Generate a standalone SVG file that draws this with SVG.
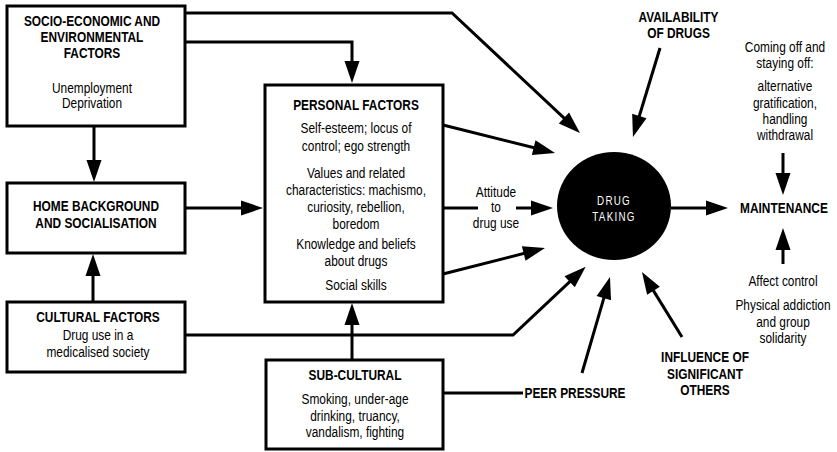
<svg xmlns="http://www.w3.org/2000/svg" width="837" height="452" viewBox="0 0 837 452">
<style>
.box{fill:#fff;stroke:#000;stroke-width:3}
.ln{fill:none;stroke:#000;stroke-width:3;stroke-linejoin:miter}
.arr{marker-end:url(#ah)}
text{font-family:"Liberation Sans",Arial,sans-serif;font-size:14.5px;fill:#000;text-anchor:middle}
.h{font-weight:bold}
.w{fill:#fff;font-size:12px;letter-spacing:1.5px}
</style>
<defs>
<marker id="ah" markerUnits="userSpaceOnUse" markerWidth="24" markerHeight="16" refX="16" refY="7.5" orient="auto" overflow="visible">
<path d="M0,0 L22,7.5 L0,15 Z" fill="#000"/>
</marker>
</defs>
<rect width="837" height="452" fill="#fff"/>
<g id="connectors">
<path class="ln arr" d="M185,13 L452,13 L575.6,128.9"/>
<path class="ln arr" d="M185,42 L352,42 L352,77"/>
<path class="ln arr" d="M94,126 L94,176"/>
<path class="ln arr" d="M185,208 L257,208"/>
<path class="ln arr" d="M93,302 L93,260"/>
<path class="ln arr" d="M352,360 L352,309"/>
<path class="ln arr" d="M185,335 L513,335 L581.3,270.8"/>
<path class="ln arr" d="M443,125 L549.2,151.5"/>
<path class="ln arr" d="M443,274 L539.2,249.5"/>
<path class="ln" d="M443,208 L478,208"/>
<path class="ln arr" d="M516,208 L547,208"/>
<path class="ln arr" d="M660,48 L634.7,131.3"/>
<path class="ln arr" d="M671,208 L722,208"/>
<path class="ln arr" d="M783,153 L783,189"/>
<path class="ln arr" d="M783,264 L783,234"/>
<path class="ln arr" d="M582,373 L608.3,282.8"/>
<path class="ln arr" d="M682,337 L645.1,277.1"/>
<path class="ln" d="M443,393 L523,393"/>
</g>
<g id="socio-economic">
<rect class="box" x="7" y="6" width="178" height="120"/>
<g transform="matrix(.82 0 0 1 16.56 0)">
<text class="h" x="92" y="26">SOCIO-ECONOMIC AND</text>
<text class="h" x="92" y="42">ENVIRONMENTAL</text>
<text class="h" x="92" y="58">FACTORS</text>
<text x="92" y="93">Unemployment</text>
<text x="92" y="108">Deprivation</text>
</g>
</g>
<g id="home">
<rect class="box" x="7" y="183" width="178" height="70"/>
<g transform="matrix(.82 0 0 1 17.28 0)">
<text class="h" x="96" y="211">HOME BACKGROUND</text>
<text class="h" x="96" y="228">AND SOCIALISATION</text>
</g>
</g>
<g id="cultural">
<rect class="box" x="7" y="302" width="178" height="70"/>
<g transform="matrix(.82 0 0 1 17.64 0)">
<text class="h" x="98" y="322">CULTURAL FACTORS</text>
<text x="98" y="340">Drug use in a</text>
<text x="98" y="357">medicalised society</text>
</g>
</g>
<g id="personal">
<rect class="box" x="265" y="85" width="178" height="217"/>
<g transform="matrix(.82 0 0 1 64.08 0)">
<text class="h" x="356" y="110">PERSONAL FACTORS</text>
<text x="356" y="133">Self-esteem; locus of</text>
<text x="356" y="151">control; ego strength</text>
<text x="356" y="178">Values and related</text>
<text x="356" y="195">characteristics: machismo,</text>
<text x="356" y="212">curiosity, rebellion,</text>
<text x="356" y="229">boredom</text>
<text x="356" y="249">Knowledge and beliefs</text>
<text x="356" y="266">about drugs</text>
<text x="356" y="290">Social skills</text>
</g>
</g>
<g id="sub-cultural">
<rect class="box" x="266" y="360" width="177" height="89"/>
<g transform="matrix(.82 0 0 1 63.9 0)">
<text class="h" x="355" y="380">SUB-CULTURAL</text>
<text x="355" y="404">Smoking, under-age</text>
<text x="355" y="421">drinking, truancy,</text>
<text x="355" y="437">vandalism, fighting</text>
</g>
</g>
<g id="drug-taking">
<ellipse cx="614" cy="206" rx="57" ry="54" fill="#000"/>
<g transform="matrix(.82 0 0 1 110.52 0)">
<text class="w" x="614" y="205">DRUG</text>
<text class="w" x="614" y="221">TAKING</text>
</g>
</g>
<g id="attitude" transform="matrix(.82 0 0 1 89.28 0)">
<text x="496" y="197">Attitude</text>
<text x="496" y="212">to</text>
<text x="496" y="228">drug use</text>
</g>
<g id="availability" transform="matrix(.82 0 0 1 122.13 0)">
<text class="h" x="678.5" y="22">AVAILABILITY</text>
<text class="h" x="678.5" y="38">OF DRUGS</text>
</g>
<g id="maintenance" transform="matrix(.82 0 0 1 141.12 0)">
<text class="h" x="784" y="213">MAINTENANCE</text>
</g>
<g id="coming-off" transform="matrix(.82 0 0 1 141.3 0)">
<text x="785" y="52">Coming off and</text>
<text x="785" y="68">staying off:</text>
<text x="785" y="91">alternative</text>
<text x="785" y="108">gratification,</text>
<text x="785" y="124">handling</text>
<text x="785" y="140">withdrawal</text>
</g>
<g id="affect" transform="matrix(.82 0 0 1 140.94 0)">
<text x="783" y="286">Affect control</text>
<text x="783" y="310">Physical addiction</text>
<text x="783" y="327">and group</text>
<text x="783" y="343">solidarity</text>
</g>
<g id="peer-pressure" transform="matrix(.82 0 0 1 103.5 0)">
<text class="h" x="575" y="398">PEER PRESSURE</text>
</g>
<g id="influence" transform="matrix(.82 0 0 1 126.9 0)">
<text class="h" x="705" y="362">INFLUENCE OF</text>
<text class="h" x="705" y="379">SIGNIFICANT</text>
<text class="h" x="705" y="395">OTHERS</text>
</g>
</svg>
